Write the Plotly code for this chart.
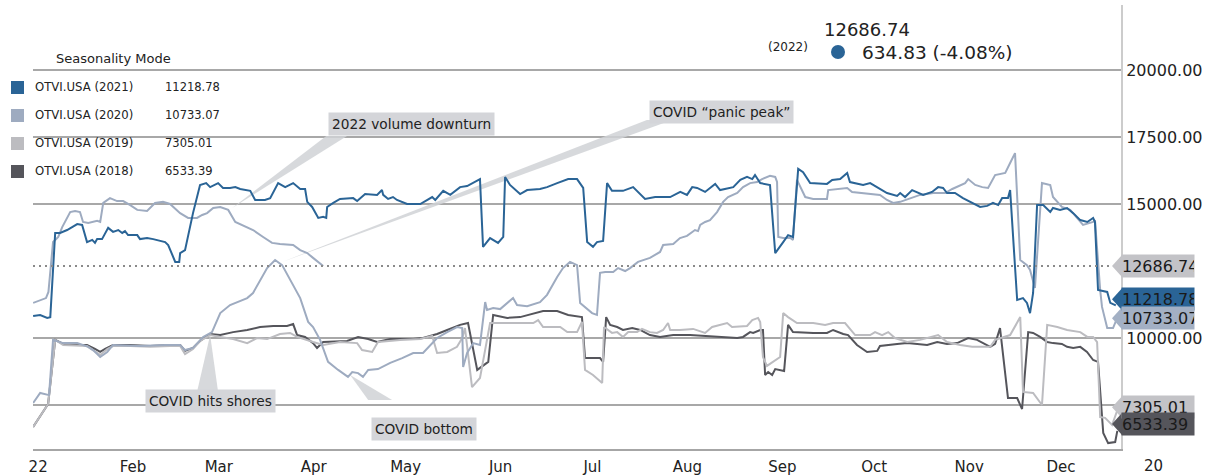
import pandas as pd
import plotly.graph_objects as go

BASE = pd.Timestamp("2022-01-01")

# ---------------- data (day-of-year offsets from Jan 1, values) ----------------
days_2022 = [0, 4.2, 5, 6.5, 7.2, 8.2, 9.5, 10.4, 12.1, 13.7, 15.3, 16.3, 18.0, 20.9, 21.9, 22.9, 25.1, 27.4,
             29.4, 31.7, 34.0, 37.2, 39.8, 42.4, 44.7, 48.0, 50.6, 53.5, 55.2, 56.8, 58.8, 61.1, 63.7, 66.0,
             69.9, 71.8, 75.1, 78.0, 80.6, 84.9, 87.2, 89.5, 91.4, 93.1, 94.7]
vals_2022 = [11310, 11490, 11720, 13580, 13660, 13770, 14140, 14330, 14700, 14740, 14700, 14330, 14290, 14370,
             14330, 15040, 15220, 15110, 15110, 14960, 14780, 14740, 15040, 15080, 15000, 14660, 14480, 14480,
             14590, 14660, 14850, 14890, 14780, 14330, 14140, 14030, 13770, 13550, 13510, 13470, 13280, 13170,
             12990, 12840, 12686.74]

days_2021 = [0, 2.3, 4.6, 5.6, 7.2, 8.8, 11.1, 12.7, 14.4, 16.0, 17.6, 19.3, 20.2, 20.9, 22.5, 24.5, 26.1, 27.8,
             29.1, 30.0, 31.0, 34.0, 34.9, 37.2, 39.2, 43.1, 44.1, 46.4, 47.7, 48.0, 49.6, 52.2, 54.5, 56.5, 57.8,
             60.4, 62.0, 64.3, 66.0, 67.6, 70.9, 72.5, 75.7, 77.4, 80.0, 82.3, 84.9, 87.2, 88.8, 89.5, 91.1, 93.1,
             94.7, 95.7, 96.0, 98.0, 100.2, 104.5, 105.8, 108.4, 112.3, 113.9, 114.3, 115.9, 117.5, 118.8, 122.1,
             126.4, 128.6, 130.3, 131.3, 133.9, 136.2, 139.4, 141.7, 145.9, 146.9, 149.2, 151.8, 153.5, 154.1,
             155.7, 159.0, 161.3, 165.5, 167.8, 171.1, 174.7, 177.6, 179.6, 180.9, 182.8, 184.1, 186.1, 187.4,
             189.0, 192.6, 195.9, 199.8, 203.1, 208.0, 211.3, 213.5, 215.2, 216.8, 219.4, 222.7, 224.3, 228.6,
             230.9, 233.1, 234.8, 235.7, 237.4, 240.6, 242.3, 244.9, 246.5, 248.1, 249.8, 251.4, 253.7, 259.2,
             260.9, 263.5, 265.8, 266.7, 271.0, 273.3, 276.5, 278.8, 282.1, 283.1, 284.7, 287.0, 290.6, 293.5,
             295.5, 297.1, 298.4, 301.0, 303.6, 309.2, 311.5, 313.4, 315.1, 316.4, 318.3, 319.0, 320.6, 321.3,
             323.2, 324.5, 325.5, 326.5, 327.8, 329.8, 332.1, 333.0, 335.3, 337.6, 339.6, 341.9, 344.2, 346.1,
             346.7, 347.7, 350.7, 351.7, 353.5]
vals_2021 = [10820, 10860, 10750, 10780, 13920, 13920, 14030, 14140, 14250, 14220, 13580, 13660, 13550, 13690,
             13690, 14110, 13960, 14030, 13920, 13990, 13840, 13840, 13690, 13730, 13690, 13580, 13470, 12840,
             12840, 13170, 13280, 14660, 15710, 15780, 15630, 15780, 15600, 15600, 15630, 15560, 15490, 15150,
             15150, 15220, 15780, 15630, 15780, 15560, 15560, 15080, 14890, 14480, 14520, 14480, 14890, 15040,
             15190, 15220, 15110, 15370, 15340, 15520, 15340, 15190, 15260, 15150, 15000, 15000, 15150, 15260,
             15150, 15490, 15340, 15630, 15670, 15930, 13400, 13730, 13550, 13770, 16010, 15710, 15370, 15520,
             15560, 15630, 15780, 15930, 15930, 15600, 13580, 13400, 13580, 13620, 15780, 15490, 15490, 15630,
             15190, 15260, 15260, 15450, 15340, 15630, 15600, 15450, 15750, 15520, 15630, 15900, 16010, 15930,
             16080, 15780, 15710, 13170, 13580, 13840, 13770, 16310, 16190, 15780, 15750, 15900, 15930, 16160,
             15820, 15710, 15780, 15560, 15410, 15300, 15410, 15260, 15520, 15340, 15450, 15630, 15600, 15410,
             15410, 15220, 14890, 14930, 15040, 14960, 15220, 15220, 15520, 12650, 11420, 11490, 11310, 10930,
             11680, 14960, 14960, 14700, 14850, 14780, 14850, 14660, 14400, 14330, 14480, 14330, 11790, 11720,
             11310, 11218.78]

days_2020 = [0, 2.3, 5.2, 6.5, 9.8, 14.4, 18.0, 19.6, 21.9, 24.2, 26.1, 34.9, 43.1, 48.0, 49.6, 52.2, 55.5, 58.4,
             61.1, 64.3, 69.9, 71.8, 76.4, 79.0, 81.3, 83.9, 87.2, 89.8, 91.4, 93.7, 96.3, 99.6, 102.8, 104.2,
             106.1, 107.7, 109.4, 112.6, 116.6, 120.5, 124.1, 127.3, 131.9, 135.2, 138.4, 140.1, 140.4, 141.7,
             143.7, 145.9, 147.6, 148.2, 150.2, 152.5, 156.7, 158.0, 161.3, 165.5, 167.8, 171.1, 173.0, 175.3,
             177.6, 178.6, 180.2, 182.5, 184.1, 185.1, 186.8, 189.4, 191.0, 193.3, 194.9, 197.5, 201.4, 204.7,
             205.7, 209.0, 211.2, 213.5, 216.1, 217.1, 217.8, 219.4, 221.0, 223.3, 225.3, 226.9, 229.9, 231.8,
             234.1, 236.4, 238.0, 240.6, 242.3, 242.9, 243.3, 244.9, 247.2, 248.1, 249.4, 252.1, 254.7, 259.2,
             259.6, 263.5, 265.8, 267.4, 271.0, 276.5, 278.8, 280.8, 283.1, 286.3, 289.6, 293.9, 297.8, 300.1,
             302.7, 304.3, 305.3, 307.6, 309.9, 311.8, 314.1, 317.4, 319.0, 320.6, 322.3, 324.5, 325.5, 327.1,
             329.4, 332.1, 333.0, 335.9, 338.6, 340.9, 342.8, 346.1, 346.7, 348.4, 349.0, 350.7, 352.6, 353.9]
vals_2020 = [7575, 7950, 7870, 9930, 9810, 9810, 9670, 9550, 9290, 9480, 9740, 9700, 9740, 9740, 9550, 9630,
             10040, 10220, 10930, 11230, 11490, 11680, 12610, 12910, 12720, 12160, 11490, 10600, 10410, 9930,
             9110, 8810, 8550, 8730, 8690, 8550, 8810, 8840, 9070, 9250, 9440, 9440, 10000, 10220, 10410, 10370,
             8920, 9440, 9810, 9740, 11340, 11050, 11120, 11080, 11490, 11230, 11190, 11340, 11610, 12280, 12610,
             12840, 12720, 11310, 11160, 10930, 10860, 12430, 12460, 12460, 12610, 12500, 12610, 12840, 12990,
             13210, 13470, 13510, 13730, 13810, 14030, 13990, 14220, 14330, 14400, 14700, 15080, 15260, 15410,
             15630, 15780, 15820, 15930, 16050, 16010, 15820, 13770, 13730, 13730, 13660, 15900, 15260, 15190,
             15190, 15520, 15560, 15600, 15450, 15410, 15340, 15150, 15040, 15080, 15220, 15340, 15410, 15410,
             15560, 15710, 15780, 15930, 15710, 15630, 15600, 16080, 16160, 16530, 16900, 12910, 12720, 12540,
             11870, 15780, 15710, 15260, 14890, 14780, 14480, 14220, 14330, 14400, 11790, 11160, 10370, 10370,
             10733.07]

days_2019 = [0, 4.9, 7.2, 9.8, 17.6, 20.2, 21.9, 24.2, 26.1, 31.7, 38.2, 44.7, 48.0, 49.6, 52.2, 54.5, 57.8,
             61.1, 65.3, 69.9, 73.1, 76.4, 80.6, 83.9, 86.2, 91.4, 94.7, 100.2, 105.8, 107.4, 110.7, 112.6, 119.8,
             126.4, 130.3, 131.9, 135.2, 138.4, 140.1, 141.0, 143.3, 145.9, 149.2, 156.7, 163.3, 164.9, 166.5,
             172.1, 174.4, 177.6, 179.2, 180.2, 182.8, 185.8, 186.4, 189.0, 190.7, 192.6, 194.3, 197.2, 198.8,
             201.4, 203.7, 205.7, 207.3, 208.0, 211.2, 215.5, 219.4, 221.7, 226.6, 228.2, 233.1, 234.8, 236.7,
             237.4, 238.3, 239.6, 241.6, 243.9, 244.9, 246.5, 249.4, 254.7, 258.6, 261.2, 265.1, 268.4, 273.3,
             274.9, 277.2, 279.2, 281.4, 285.4, 289.6, 292.9, 295.5, 298.4, 302.7, 306.6, 312.5, 314.1, 316.7,
             319.0, 322.3, 323.2, 326.5, 329.4, 331.1, 334.4, 337.6, 341.9, 344.2, 346.1, 347.4, 348.4, 350.0,
             352.3, 354.0]
vals_2019 = [6680, 7540, 9930, 9740, 9700, 9520, 9370, 9590, 9700, 9700, 9670, 9700, 9700, 9400, 9590, 9890,
             10110, 10040, 9960, 9810, 10000, 9960, 10150, 10190, 10040, 9850, 9740, 9850, 9810, 9550, 9480, 9850,
             9930, 9960, 10080, 9440, 9480, 9670, 10000, 10370, 8170, 8510, 10560, 10560, 10560, 10670, 10410,
             10410, 10220, 10220, 10600, 8810, 8620, 8320, 10410, 10190, 10220, 10040, 10220, 10220, 10340, 10220,
             10190, 10300, 10560, 10300, 10300, 10340, 10190, 10410, 10560, 10410, 10450, 10670, 10750, 10600,
             9290, 8960, 9110, 9290, 10930, 10780, 10560, 10560, 10490, 10560, 10560, 10110, 10110, 10220, 10110,
             10220, 10000, 9850, 9930, 10040, 10110, 9850, 9740, 9670, 9670, 9930, 10040, 10110, 10780, 7990,
             7950, 7500, 10490, 10410, 10300, 10220, 10040, 10040, 9850, 7050, 7020, 6760, 7305.01]

days_2018 = [0, 4.9, 7.2, 9.8, 13.7, 17.6, 20.2, 21.9, 23.5, 26.1, 31.7, 38.2, 44.7, 48.0, 49.6, 52.2, 54.5,
             57.8, 61.1, 65.3, 69.9, 74.1, 78.4, 82.9, 84.9, 86.2, 88.8, 91.4, 92.7, 94.7, 102.5, 106.1, 109.4,
             112.3, 116.6, 124.1, 127.3, 131.9, 135.2, 139.4, 142.0, 145.0, 148.6, 150.2, 154.8, 159.0, 166.5,
             171.1, 174.7, 179.2, 180.2, 185.1, 186.1, 187.1, 188.4, 190.7, 192.6, 195.6, 198.2, 201.4, 204.7,
             209.0, 214.5, 218.8, 222.0, 225.3, 229.9, 231.8, 234.1, 235.1, 237.4, 238.3, 239.0, 240.0, 241.3,
             242.3, 245.2, 246.5, 248.1, 254.7, 259.2, 261.2, 264.5, 266.1, 269.0, 272.3, 275.6, 276.5, 278.8,
             282.1, 285.4, 288.6, 291.9, 295.2, 298.4, 301.7, 305.3, 308.2, 310.8, 312.5, 314.1, 315.7, 318.3,
             321.3, 322.9, 324.9, 326.5, 328.8, 331.1, 333.0, 335.9, 337.6, 339.6, 341.9, 344.1, 346.1, 347.7,
             349.0, 349.4, 351.0, 353.3, 354.0]
vals_2018 = [6680, 7540, 9930, 9780, 9740, 9740, 9590, 9480, 9590, 9740, 9740, 9700, 9740, 9740, 9520, 9630,
             9890, 10150, 10110, 10220, 10300, 10410, 10450, 10450, 10520, 10110, 10040, 9810, 9630, 9850, 9890,
             10040, 9960, 9850, 9960, 9960, 10000, 10150, 10300, 10490, 10560, 8810, 9110, 10860, 10750, 10780,
             11010, 11010, 10860, 10780, 9250, 9250, 9110, 10780, 10490, 10410, 10300, 10370, 10300, 10110,
             10040, 10110, 10110, 10080, 10040, 10040, 10000, 10040, 10220, 10190, 10300, 10300, 8620, 8730,
             8620, 8840, 8770, 10490, 10220, 10190, 10190, 10300, 10150, 10110, 9740, 9480, 9520, 9700, 9740,
             9780, 9810, 9780, 9740, 9850, 9780, 9810, 10000, 9930, 9780, 9670, 9780, 10370, 7760, 7760, 7350,
             10220, 10190, 10040, 9850, 9810, 9780, 9670, 9630, 9670, 9480, 9180, 9110, 7050, 6460, 6080, 6120,
             6533.39]

series_names = ["OTVI.USA (2021)", "OTVI.USA (2020)", "OTVI.USA (2019)", "OTVI.USA (2018)"]
last_values = [11218.78, 10733.07, 7305.01, 6533.39]
current_2022 = 12686.74
change_text = "634.83 (-4.08%)"

month_ticks = ["2022-%02d-01" % m for m in range(1, 13)]
month_labels = ["22", "Feb", "Mar", "Apr", "May", "Jun", "Jul", "Aug", "Sep", "Oct", "Nov", "Dec"]
y_ticks = [7500, 10000, 15000, 17500, 20000]
y_labels = ["", "10000.00", "15000.00", "17500.00", "20000.00"]

# callouts: text, box centre (day, value), wedge tip (day, value), wedge base (days, value)
callouts = [
    ("2022 volume downturn", 123.4, 17985, 65.0, 14850, (95.7, 102.5), 17540),
    ("COVID \u201cpanic peak\u201d", 224.6, 18430, 81.3, 12840, (200.4, 208.6), 18130),
    ("COVID hits shores", 57.8, 7650, 57.8, 10110, (53.5, 60.4), 7990),
    ("COVID bottom", 127.7, 6605, 103.5, 8620, (109.4, 117.2), 7690),
]

# ---------------- styling ----------------
C2021 = "#2a6496"
C2020 = "#9eabc0"
C2019 = "#bcbcc0"
C2018 = "#55555b"
C2022 = "#9eabc0"
FONT = "Verdana, DejaVu Sans, sans-serif"


def to_dates(days):
    return [BASE + pd.Timedelta(days=d) for d in days]


for d, v in [(days_2022, vals_2022), (days_2021, vals_2021), (days_2020, vals_2020),
             (days_2019, vals_2019), (days_2018, vals_2018)]:
    assert len(d) == len(v), (len(d), len(v))

fig = go.Figure()

# callout wedges (beneath the series)
for text, bx, by, tx, ty, (b0, b1), bv in callouts:
    fig.add_trace(go.Scatter(
        x=to_dates([tx, b0, b1, tx]), y=[ty, bv, bv, ty], mode="lines", fill="toself",
        fillcolor="rgba(208,210,214,0.85)", line=dict(width=0), hoverinfo="skip", showlegend=False))

for days, vals, col in [(days_2018, vals_2018, C2018), (days_2019, vals_2019, C2019),
                        (days_2022, vals_2022, C2022), (days_2020, vals_2020, C2020),
                        (days_2021, vals_2021, C2021)]:
    fig.add_trace(go.Scatter(x=to_dates(days), y=vals, mode="lines",
                             line=dict(color=col, width=2), hoverinfo="skip", showlegend=False))

shapes = []
annotations = []

# white panel behind legend (covers grid lines)
shapes.append(dict(type="rect", xref="paper", yref="paper", x0=-0.01, x1=0.183, y0=(449 - 190) / 444,
                   y1=(449 - 45) / 444, fillcolor="white", line=dict(width=0), layer="between"))

# dotted current level line
shapes.append(dict(type="line", xref="paper", yref="y", x0=0, x1=0.992, y0=current_2022, y1=current_2022,
                   line=dict(color="#8a8a8a", width=2, dash="2px,4px")))

# legend (manual)
annotations.append(dict(text="Seasonality Mode", xref="paper", yref="paper", x=(54 - 33) / 1088,
                        y=(449 - 59) / 444, xanchor="left", yanchor="middle", showarrow=False,
                        font=dict(family=FONT, size=13, color="#222")))
for i, (name, val, col) in enumerate(zip(series_names, last_values, [C2021, C2020, C2019, C2018])):
    yp = 87 + 28 * i
    shapes.append(dict(type="rect", xref="paper", yref="paper", x0=(11 - 33) / 1088, x1=(24 - 33) / 1088,
                       y0=(449 - yp - 7) / 444, y1=(449 - yp + 6) / 444, fillcolor=col, line=dict(width=0)))
    annotations.append(dict(text=name, xref="paper", yref="paper", x=0, y=(449 - yp) / 444,
                            xanchor="left", yanchor="middle", showarrow=False,
                            font=dict(family=FONT, size=11.7, color="#222")))
    annotations.append(dict(text="%.2f" % val, xref="paper", yref="paper", x=(163 - 33) / 1088,
                            y=(449 - yp) / 444, xanchor="left", yanchor="middle", showarrow=False,
                            font=dict(family=FONT, size=11.5, color="#222")))

# header
annotations.append(dict(text="%.2f" % current_2022, xref="paper", yref="paper", x=(867 - 33) / 1088,
                        y=(449 - 30) / 444, xanchor="center", yanchor="middle", showarrow=False,
                        font=dict(family=FONT, size=18, color="#222")))
annotations.append(dict(text="(2022)", xref="paper", yref="paper", x=(788 - 33) / 1088,
                        y=(449 - 47) / 444, xanchor="center", yanchor="middle", showarrow=False,
                        font=dict(family=FONT, size=12, color="#222")))
annotations.append(dict(text=change_text, xref="paper", yref="paper", x=(860 - 33) / 1088,
                        y=(449 - 52) / 444, xanchor="left", yanchor="middle", showarrow=False,
                        font=dict(family=FONT, size=18.5, color="#222")))
shapes.append(dict(type="circle", xref="paper", yref="paper", xsizemode="pixel", ysizemode="pixel",
                   xanchor=(838 - 33) / 1088, yanchor=(449 - 52) / 444, x0=-7, x1=7, y0=-7, y1=7,
                   fillcolor=C2021, line=dict(width=0)))

# callout boxes
for text, bx, by, tx, ty, _, _ in callouts:
    annotations.append(dict(text=text, x=BASE + pd.Timedelta(days=bx), y=by, xref="x", yref="y",
                            showarrow=False, bgcolor="#d4d5d9", borderpad=3,
                            font=dict(family=FONT, size=13.7, color="#222")))

# right-hand value tags
tags = [(current_2022, "#c3c3c7", 0), (last_values[0], C2021, 6), (last_values[1], "#a3b0c4", 0),
        (last_values[2], "#c3c3c7", 3), (last_values[3], "#55555b", 7)]
for val, col, dy in tags:
    shapes.append(dict(type="path", xref="paper", yref="y", xsizemode="pixel", ysizemode="pixel",
                       xanchor=1, yanchor=val,
                       path="M -9,%d L 1,%d L 1,%d Z" % (dy, dy + 11, dy - 11),
                       fillcolor=col, line=dict(width=0)))
    annotations.append(dict(text="%.2f" % val, xref="paper", yref="y", x=1, y=val, xanchor="left",
                            yanchor="middle", yshift=dy, showarrow=False, bgcolor=col, width=72,
                            height=22, align="left", borderpad=0,
                            font=dict(family=FONT, size=16, color="#1a1a1a")))

# trailing axis label
annotations.append(dict(text="20", xref="paper", yref="paper", x=(1153 - 33) / 1088, y=(449 - 466) / 444,
                        xanchor="center", yanchor="middle", showarrow=False,
                        font=dict(family=FONT, size=15, color="#222")))

fig.update_layout(
    width=1213, height=475, margin=dict(l=33, r=92, t=5, b=26, autoexpand=False),
    paper_bgcolor="white", plot_bgcolor="white", showlegend=False,
    shapes=shapes, annotations=annotations,
    xaxis=dict(type="date", range=[BASE - pd.Timedelta(hours=1), BASE + pd.Timedelta(days=355.2)],
               tickvals=month_ticks, ticktext=month_labels, showgrid=False, zeroline=False,
               showline=True, linecolor="#a6a6a6", linewidth=2, ticks="outside", ticklen=3,
               tickcolor="rgba(0,0,0,0)", automargin=False,
               ticklabelshift=5, tickfont=dict(family=FONT, size=15, color="#222")),
    yaxis=dict(range=[5859, 22425], side="right", tickvals=y_ticks, ticktext=y_labels, showgrid=True,
               gridcolor="#a8a8a8", gridwidth=1.5, zeroline=False, showline=True, linecolor="#cccccc",
               linewidth=2, ticks="", automargin=False, tickfont=dict(family=FONT, size=16, color="#222")),
)

fig.write_html("out.html", config={"displayModeBar": False},
               post_script="document.body.style.margin='0px';document.body.style.overflow='hidden';")
